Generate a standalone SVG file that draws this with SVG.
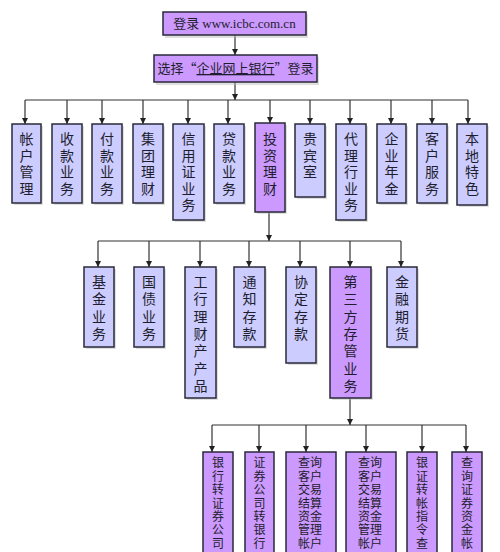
<svg xmlns="http://www.w3.org/2000/svg" width="500" height="552" viewBox="0 0 500 552">
<style>
.bx{stroke:#2a2a3a;stroke-width:1.5}
.lt{fill:#ccccff}
.pp{fill:#cc99ff}
.sh{fill:#b8b8b8;opacity:.45}
.t{font-family:"Noto Sans CJK SC","Noto Sans",sans-serif;font-size:14px;fill:#1e1e2e;text-anchor:middle}
.s{font-size:13px}
.k{font-size:12px}
.ln{stroke:#333;stroke-width:1.2;fill:none}
.ar{stroke:#333;stroke-width:1.2;fill:none;marker-end:url(#ah)}
</style>
<defs>
<marker id="ah" viewBox="0 0 10 10" refX="10" refY="5" markerWidth="6" markerHeight="6" markerUnits="userSpaceOnUse" orient="auto">
<path d="M0,0 L10,5 L0,10 z" fill="#222"/>
</marker>
</defs>
<rect width="500" height="552" fill="#ffffff"/>

<g id="connectors">
<line class="ar" x1="235" y1="35" x2="235" y2="55"/>
<line class="ar" x1="235" y1="82" x2="235" y2="100"/>
<line class="ln" x1="25" y1="100" x2="468" y2="100"/>
<line class="ar" x1="25" y1="100" x2="25" y2="124"/>
<line class="ar" x1="67" y1="100" x2="67" y2="124"/>
<line class="ar" x1="102" y1="100" x2="102" y2="124"/>
<line class="ar" x1="143" y1="100" x2="143" y2="124"/>
<line class="ar" x1="188" y1="100" x2="188" y2="124"/>
<line class="ar" x1="228" y1="100" x2="228" y2="124"/>
<line class="ar" x1="270" y1="100" x2="270" y2="123"/>
<line class="ar" x1="310" y1="100" x2="310" y2="124"/>
<line class="ar" x1="350" y1="100" x2="350" y2="124"/>
<line class="ar" x1="391" y1="100" x2="391" y2="124"/>
<line class="ar" x1="432" y1="100" x2="432" y2="124"/>
<line class="ar" x1="468" y1="100" x2="468" y2="124"/>

<line class="ar" x1="269" y1="212" x2="269" y2="241"/>
<line class="ln" x1="98" y1="241" x2="401" y2="241"/>
<line class="ar" x1="98" y1="241" x2="98" y2="267"/>
<line class="ar" x1="149" y1="241" x2="149" y2="267"/>
<line class="ar" x1="200" y1="241" x2="200" y2="267"/>
<line class="ar" x1="249" y1="241" x2="249" y2="267"/>
<line class="ar" x1="300" y1="241" x2="300" y2="267"/>
<line class="ar" x1="350" y1="241" x2="350" y2="267"/>
<line class="ar" x1="401" y1="241" x2="401" y2="267"/>

<line class="ar" x1="350" y1="398" x2="350" y2="425"/>
<line class="ln" x1="212" y1="425" x2="466" y2="425"/>
<line class="ar" x1="212" y1="425" x2="212" y2="452"/>
<line class="ar" x1="259" y1="425" x2="259" y2="452"/>
<line class="ar" x1="306" y1="425" x2="306" y2="452"/>
<line class="ar" x1="366" y1="425" x2="366" y2="452"/>
<line class="ar" x1="422" y1="425" x2="422" y2="452"/>
<line class="ar" x1="466" y1="425" x2="466" y2="452"/>
</g>

<g id="n-login">
<rect class="sh" x="165" y="14" width="143" height="24"/>
<rect class="bx pp" x="163" y="12" width="143" height="23"/>
<text class="t s" x="234.5" y="28"><tspan>登录 </tspan><tspan font-family="Liberation Serif,serif">www.icbc.com.cn</tspan></text>
</g>
<g id="n-select">
<rect class="sh" x="156" y="57" width="163" height="28"/>
<rect class="bx pp" x="154" y="55" width="163" height="27"/>
<text class="t s" x="235.5" y="73">选择“<tspan text-decoration="underline">企业网上银行</tspan>”登录</text>
</g>

<g id="n1">
<rect class="sh" x="14" y="126" width="29" height="79"/>
<rect class="bx lt" x="12" y="124" width="29" height="79"/>
<text class="t"><tspan x="26.5" y="144">帐</tspan><tspan x="26.5" y="160.5">户</tspan><tspan x="26.5" y="177">管</tspan><tspan x="26.5" y="193.5">理</tspan></text>
</g>
<g id="n2">
<rect class="sh" x="54" y="126" width="30" height="79"/>
<rect class="bx lt" x="52" y="124" width="30" height="79"/>
<text class="t"><tspan x="67" y="144">收</tspan><tspan x="67" y="160.5">款</tspan><tspan x="67" y="177">业</tspan><tspan x="67" y="193.5">务</tspan></text>
</g>
<g id="n3">
<rect class="sh" x="94" y="126" width="30" height="79"/>
<rect class="bx lt" x="92" y="124" width="30" height="79"/>
<text class="t"><tspan x="107" y="144">付</tspan><tspan x="107" y="160.5">款</tspan><tspan x="107" y="177">业</tspan><tspan x="107" y="193.5">务</tspan></text>
</g>
<g id="n4">
<rect class="sh" x="135" y="126" width="30" height="79"/>
<rect class="bx lt" x="133" y="124" width="30" height="79"/>
<text class="t"><tspan x="148" y="144">集</tspan><tspan x="148" y="160.5">团</tspan><tspan x="148" y="177">理</tspan><tspan x="148" y="193.5">财</tspan></text>
</g>
<g id="n5">
<rect class="sh" x="175" y="126" width="31" height="96"/>
<rect class="bx lt" x="173" y="124" width="31" height="96"/>
<text class="t"><tspan x="188.5" y="144">信</tspan><tspan x="188.5" y="160.5">用</tspan><tspan x="188.5" y="177">证</tspan><tspan x="188.5" y="193.5">业</tspan><tspan x="188.5" y="210">务</tspan></text>
</g>
<g id="n6">
<rect class="sh" x="216" y="126" width="30" height="79"/>
<rect class="bx lt" x="214" y="124" width="30" height="79"/>
<text class="t"><tspan x="229" y="144">贷</tspan><tspan x="229" y="160.5">款</tspan><tspan x="229" y="177">业</tspan><tspan x="229" y="193.5">务</tspan></text>
</g>
<g id="n7">
<rect class="sh" x="257" y="125" width="30" height="89"/>
<rect class="bx pp" x="255" y="123" width="30" height="89"/>
<text class="t"><tspan x="270" y="144">投</tspan><tspan x="270" y="160.5">资</tspan><tspan x="270" y="177">理</tspan><tspan x="270" y="193.5">财</tspan></text>
</g>
<g id="n8">
<rect class="sh" x="297" y="126" width="30" height="73"/>
<rect class="bx lt" x="295" y="124" width="30" height="73"/>
<text class="t"><tspan x="310" y="144">贵</tspan><tspan x="310" y="160.5">宾</tspan><tspan x="310" y="177">室</tspan></text>
</g>
<g id="n9">
<rect class="sh" x="338" y="126" width="30" height="96"/>
<rect class="bx lt" x="336" y="124" width="30" height="96"/>
<text class="t"><tspan x="351" y="144">代</tspan><tspan x="351" y="160.5">理</tspan><tspan x="351" y="177">行</tspan><tspan x="351" y="193.5">业</tspan><tspan x="351" y="210">务</tspan></text>
</g>
<g id="n10">
<rect class="sh" x="379" y="126" width="29" height="79"/>
<rect class="bx lt" x="377" y="124" width="29" height="79"/>
<text class="t"><tspan x="391.5" y="144">企</tspan><tspan x="391.5" y="160.5">业</tspan><tspan x="391.5" y="177">年</tspan><tspan x="391.5" y="193.5">金</tspan></text>
</g>
<g id="n11">
<rect class="sh" x="419" y="126" width="30" height="79"/>
<rect class="bx lt" x="417" y="124" width="30" height="79"/>
<text class="t"><tspan x="432" y="144">客</tspan><tspan x="432" y="160.5">户</tspan><tspan x="432" y="177">服</tspan><tspan x="432" y="193.5">务</tspan></text>
</g>
<g id="n12">
<rect class="sh" x="459" y="126" width="30" height="81"/>
<rect class="bx lt" x="457" y="124" width="30" height="81"/>
<text class="t"><tspan x="472" y="144">本</tspan><tspan x="472" y="160.5">地</tspan><tspan x="472" y="177">特</tspan><tspan x="472" y="193.5">色</tspan></text>
</g>

<g id="m1">
<rect class="sh" x="86" y="269" width="30" height="80"/>
<rect class="bx lt" x="84" y="267" width="30" height="80"/>
<text class="t"><tspan x="99" y="287">基</tspan><tspan x="99" y="304.3">金</tspan><tspan x="99" y="321.6">业</tspan><tspan x="99" y="338.9">务</tspan></text>
</g>
<g id="m2">
<rect class="sh" x="136" y="269" width="30" height="80"/>
<rect class="bx lt" x="134" y="267" width="30" height="80"/>
<text class="t"><tspan x="149" y="287">国</tspan><tspan x="149" y="304.3">债</tspan><tspan x="149" y="321.6">业</tspan><tspan x="149" y="338.9">务</tspan></text>
</g>
<g id="m3">
<rect class="sh" x="187" y="269" width="31" height="131"/>
<rect class="bx lt" x="185" y="267" width="31" height="131"/>
<text class="t"><tspan x="200.5" y="287">工</tspan><tspan x="200.5" y="304.3">行</tspan><tspan x="200.5" y="321.6">理</tspan><tspan x="200.5" y="338.9">财</tspan><tspan x="200.5" y="356.2">产</tspan><tspan x="200.5" y="373.5">产</tspan><tspan x="200.5" y="390.8">品</tspan></text>
</g>
<g id="m4">
<rect class="sh" x="236" y="269" width="31" height="80"/>
<rect class="bx lt" x="234" y="267" width="31" height="80"/>
<text class="t"><tspan x="249.5" y="287">通</tspan><tspan x="249.5" y="304.3">知</tspan><tspan x="249.5" y="321.6">存</tspan><tspan x="249.5" y="338.9">款</tspan></text>
</g>
<g id="m5">
<rect class="sh" x="288" y="269" width="30" height="96"/>
<rect class="bx lt" x="286" y="267" width="30" height="96"/>
<text class="t"><tspan x="301" y="287">协</tspan><tspan x="301" y="304.3">定</tspan><tspan x="301" y="321.6">存</tspan><tspan x="301" y="338.9">款</tspan></text>
</g>
<g id="m6">
<rect class="sh" x="332" y="269" width="41" height="131"/>
<rect class="bx pp" x="330" y="267" width="41" height="131"/>
<text class="t"><tspan x="350.5" y="287">第</tspan><tspan x="350.5" y="304.3">三</tspan><tspan x="350.5" y="321.6">方</tspan><tspan x="350.5" y="338.9">存</tspan><tspan x="350.5" y="356.2">管</tspan><tspan x="350.5" y="373.5">业</tspan><tspan x="350.5" y="390.8">务</tspan></text>
</g>
<g id="m7">
<rect class="sh" x="389" y="269" width="30" height="80"/>
<rect class="bx lt" x="387" y="267" width="30" height="80"/>
<text class="t"><tspan x="402" y="287">金</tspan><tspan x="402" y="304.3">融</tspan><tspan x="402" y="321.6">期</tspan><tspan x="402" y="338.9">货</tspan></text>
</g>

<g id="k1">
<rect class="bx pp" x="203" y="452" width="30" height="110"/>
<text class="t k"><tspan x="218" y="467.3">银</tspan><tspan x="218" y="480.7">行</tspan><tspan x="218" y="494.1">转</tspan><tspan x="218" y="507.5">证</tspan><tspan x="218" y="520.9">券</tspan><tspan x="218" y="534.3">公</tspan><tspan x="218" y="547.7">司</tspan></text>
</g>
<g id="k2">
<rect class="bx pp" x="245" y="452" width="29" height="110"/>
<text class="t k"><tspan x="259.5" y="467.3">证</tspan><tspan x="259.5" y="480.7">券</tspan><tspan x="259.5" y="494.1">公</tspan><tspan x="259.5" y="507.5">司</tspan><tspan x="259.5" y="520.9">转</tspan><tspan x="259.5" y="534.3">银</tspan><tspan x="259.5" y="547.7">行</tspan></text>
</g>
<g id="k3">
<rect class="bx pp" x="286" y="452" width="50" height="110"/>
<text class="t k"><tspan x="310" y="467.3">查询</tspan><tspan x="310" y="480.7">客户</tspan><tspan x="310" y="494.1">交易</tspan><tspan x="310" y="507.5">结算</tspan><tspan x="310" y="520.9">资金</tspan><tspan x="310" y="534.3">管理</tspan><tspan x="310" y="547.7">帐户</tspan></text>
</g>
<g id="k4">
<rect class="bx pp" x="346" y="452" width="50" height="110"/>
<text class="t k"><tspan x="370" y="467.3">查询</tspan><tspan x="370" y="480.7">客户</tspan><tspan x="370" y="494.1">交易</tspan><tspan x="370" y="507.5">结算</tspan><tspan x="370" y="520.9">资金</tspan><tspan x="370" y="534.3">管理</tspan><tspan x="370" y="547.7">帐户</tspan></text>
</g>
<g id="k5">
<rect class="bx pp" x="407" y="452" width="30" height="110"/>
<text class="t k"><tspan x="422" y="467.3">银</tspan><tspan x="422" y="480.7">证</tspan><tspan x="422" y="494.1">转</tspan><tspan x="422" y="507.5">帐</tspan><tspan x="422" y="520.9">指</tspan><tspan x="422" y="534.3">令</tspan><tspan x="422" y="547.7">查</tspan></text>
</g>
<g id="k6">
<rect class="bx pp" x="452" y="452" width="30" height="110"/>
<text class="t k"><tspan x="467" y="467.3">查</tspan><tspan x="467" y="480.7">询</tspan><tspan x="467" y="494.1">证</tspan><tspan x="467" y="507.5">券</tspan><tspan x="467" y="520.9">资</tspan><tspan x="467" y="534.3">金</tspan><tspan x="467" y="547.7">帐</tspan></text>
</g>
</svg>
